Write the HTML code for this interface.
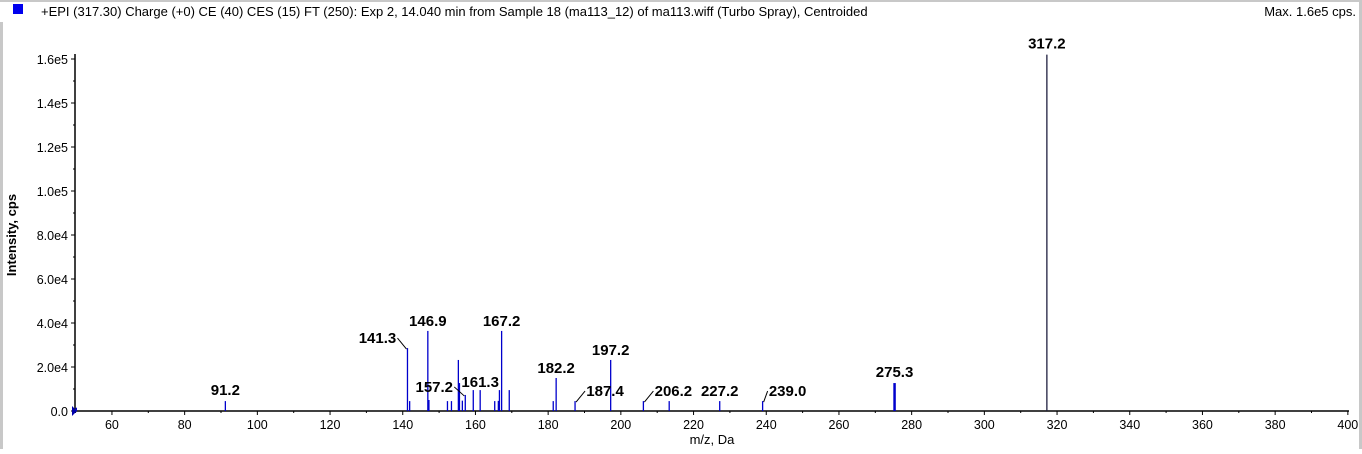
<!DOCTYPE html>
<html><head><meta charset="utf-8">
<style>
html,body{margin:0;padding:0;background:#fff;}
body{width:1362px;height:449px;overflow:hidden;position:relative;font-family:"Liberation Sans",Arial,sans-serif;}
svg text{font-family:"Liberation Sans",Arial,sans-serif;}
</style></head>
<body>
<svg id="chart" width="1362" height="449" viewBox="0 0 1362 449" xmlns="http://www.w3.org/2000/svg">
<rect x="0" y="0" width="1362" height="449" fill="#fff"/>
<rect x="0" y="0" width="1362" height="2" fill="#c8c8c8"/>
<rect x="0" y="22" width="3" height="427" fill="#c8c8c8"/>
<rect x="1359" y="0" width="3" height="449" fill="#c8c8c8"/>
<rect x="13" y="4" width="10" height="10" fill="#0000ee"/>
<text x="41" y="16" font-size="13" fill="#000">+EPI (317.30) Charge (+0) CE (40) CES (15) FT (250): Exp 2, 14.040 min from Sample 18 (ma113_12) of ma113.wiff (Turbo Spray), Centroided</text>
<text x="1356" y="16" font-size="13" text-anchor="end" fill="#000">Max. 1.6e5 cps.</text>
<text transform="translate(16,235) rotate(-90)" font-size="13" font-weight="bold" text-anchor="middle" fill="#000">Intensity, cps</text>
<text x="712" y="444" font-size="13" text-anchor="middle" fill="#000">m/z, Da</text>
<g id="axes"></g>
<g id="peaks"></g>
<g id="labels"></g>
</svg>
<script>
const mzValues = [50.2,91.2,141.3,141.9,146.9,147.2,152.3,153.4,155.3,155.6,156.4,157.2,159.4,161.3,165.3,166.3,166.6,167.2,169.3,181.4,182.2,187.4,197.2,206.2,213.3,227.2,239.0,275.3,317.2];
const intensities = [1500,4500,28600,4500,36400,5000,4500,4500,23200,12700,4700,7300,9500,9500,4500,4600,9500,36400,9500,4500,15000,4500,23200,4500,4500,4500,4500,12700,162000];
const labelTexts = ["91.2","141.3","146.9","157.2","161.3","167.2","182.2","187.4","197.2","206.2","227.2","239.0","275.3","317.2"];
const labelMz = [91.2,141.3,146.9,157.2,161.3,167.2,182.2,187.4,197.2,206.2,227.2,239.0,275.3,317.2];
const labelDx = [0,-30,0,-31,0,0,0,30,0,30,0,25,0,0];
const labelLift = [6,5,5,3,3,5,5,5,5,5,5,5,6,6];
const xTicks = [60,80,100,120,140,160,180,200,220,240,260,280,300,320,340,360,380,400];
const yTicks = [0,20000,40000,60000,80000,100000,120000,140000,160000];
const yTickLabels = ["0.0","2.0e4","4.0e4","6.0e4","8.0e4","1.0e5","1.2e5","1.4e5","1.6e5"];

const NS="http://www.w3.org/2000/svg";
const X0=75.6, Y0=411;
function xs(m){return X0+(m-50)*3.635;}
function ys(v){return Y0-v*(352/160000);}
function mk(tag,attrs,parent){const e=document.createElementNS(NS,tag);for(const k in attrs)e.setAttribute(k,attrs[k]);parent.appendChild(e);return e;}
const axes=document.getElementById('axes'), peaks=document.getElementById('peaks'), labels=document.getElementById('labels');

let e=mk('line',{x1:75,y1:Y0,x2:1349,y2:Y0,stroke:'#000','stroke-width':1.5},axes);


e=mk('line',{x1:75,y1:54,x2:75,y2:Y0,stroke:'#000','stroke-width':1.5},axes);



xTicks.forEach(t=>{
  const x=xs(t);
  let tk=mk('line',{x1:x,y1:Y0,x2:x,y2:Y0+4,stroke:'#000'},axes);
  
  
  let mt=mk('line',{x1:xs(t-10),y1:Y0,x2:xs(t-10),y2:Y0+2,stroke:'#000'},axes);
  
  
  let tx=mk('text',{x:x,y:Y0+18,'font-size':12.5,'text-anchor':'middle'},axes);
  tx.textContent=t;
  
  
});
yTicks.forEach((t,i)=>{
  const y=ys(t);
  let tk=mk('line',{x1:71,y1:y,x2:75,y2:y,stroke:'#000'},axes);
  
  
  if(i>0){let mt=mk('line',{x1:73,y1:ys(t-10000),x2:75,y2:ys(t-10000),stroke:'#000'},axes);
  
  }
  let tx=mk('text',{x:68,y:y+5,'font-size':12.5,'text-anchor':'end'},axes);
  tx.textContent=yTickLabels[i];
  
  
});
e=mk('polygon',{points:`72,${Y0-5} 77,${Y0} 72,${Y0+5}`,fill:'#0000aa'},axes);



mzValues.forEach((m,i)=>{
  const x=xs(m);
  const thick = m>270 && m<280;
  let p=mk('line',{x1:x,y1:Y0,x2:x,y2:ys(intensities[i]),stroke:m>300?'#202040':'#0000cc','stroke-width':thick?2.5:1.3},peaks);
  
  
});

labelTexts.forEach((t,i)=>{
  const m=labelMz[i];
  const idx=mzValues.indexOf(m);
  const x=xs(m), top=ys(intensities[idx]);
  const dx=labelDx[i];
  const cx=x+dx;
  const by=top-labelLift[i];
  let tx=mk('text',{x:cx,y:by,'font-size':15,'font-weight':'bold','text-anchor':'middle'},labels);
  tx.textContent=t;
  
  
  if(dx!==0){
    const lx = dx<0 ? cx+20 : cx-20;
    let ln=mk('line',{x1:lx,y1:by-5,x2:x+(dx<0?-1:1),y2:top+1,stroke:'#000'},labels);
    
    
  }
});
</script>
</body></html>
